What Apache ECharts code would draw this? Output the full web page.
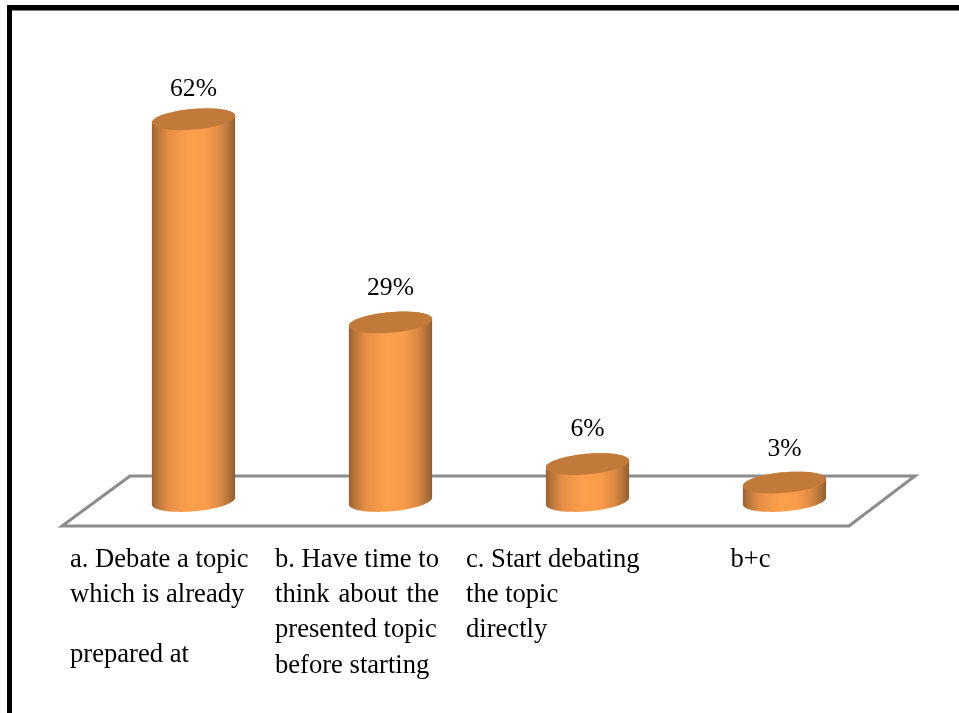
<!DOCTYPE html>
<html>
<head>
<meta charset="utf-8">
<style>html,body{margin:0;padding:0;background:#fff}#chart{width:959px;height:713px}</style>
<script src="https://cdn.jsdelivr.net/npm/echarts@6/dist/echarts.min.js"></script>
</head>
<body>
<div id="chart"></div>
<script>
// Survey responses, in percent
const categories = ['a', 'b', 'c', 'b+c'];
const percentages = [62, 29, 6, 3];
const categoryLines = [
  ['a. Debate a topic', 'which is already', 'prepared at'],
  ['b. Have time to', 'think\u200a about\u200a the', 'presented topic', 'before starting'],
  ['c. Start debating', 'the topic', 'directly'],
  ['b+c']
];

// Label block layout: half-width around the band centre and per-line heights
const labelHalfWidth = [123.5, 115.5, 121.5, 54];
const labelLineHeights = [
  [35, 35, 85],
  [35, 35, 35, 36],
  [35, 35, 35],
  [35]
];
// Gap between each column's top and its value label
const valueLabelGap = [30, 34, 35, 33.5];
const serif = '"Liberation Serif", "Times New Roman", serif';

const rich = {};
categoryLines.forEach((lines, c) => lines.forEach((_, l) => {
  rich['c' + c + 'l' + l] = {
    width: labelHalfWidth[c] * 2,
    align: 'left',
    fontFamily: serif,
    fontSize: 26.6,
    color: '#000',
    lineHeight: labelLineHeights[c][l]
  };
}));

// Points on a tilted ellipse between two parameter angles
const TILT = -5 * Math.PI / 180;
function ellipsePoints(cx, cy, a, b, from, to, steps) {
  const pts = [];
  for (let i = 0; i <= steps; i++) {
    const t = from + (to - from) * i / steps;
    const x = a * Math.cos(t), y = b * Math.sin(t);
    pts.push([cx + x * Math.cos(TILT) - y * Math.sin(TILT),
              cy + x * Math.sin(TILT) + y * Math.cos(TILT)]);
  }
  return pts;
}

const bodyGradient = {
  type: 'linear', x: 0, y: 0, x2: 1, y2: 0,
  colorStops: [
    { offset: 0, color: '#9a5f30' },
    { offset: 0.06, color: '#b5743a' },
    { offset: 0.2, color: '#e58f46' },
    { offset: 0.45, color: '#ff9f4b' },
    { offset: 0.65, color: '#fb9c4a' },
    { offset: 0.82, color: '#dc8a44' },
    { offset: 0.93, color: '#b27239' },
    { offset: 1, color: '#8f5d33' }
  ]
};

function renderCylinder(params, api) {
  const index = api.value(0);
  const value = api.value(1);
  const base = api.coord([index, 0]);
  const top = api.coord([index, value]);
  const a = api.size([1, 0])[0] * 0.212, b = 10.3;
  const side = ellipsePoints(base[0], base[1], a, b, Math.PI, 0, 40)
    .concat(ellipsePoints(top[0], top[1], a, b, 0, -Math.PI, 40));
  return {
    type: 'group',
    children: [
      { type: 'polygon', shape: { points: side }, style: { fill: bodyGradient } },
      {
        type: 'polygon',
        shape: { points: ellipsePoints(top[0], top[1], a, b, 0, Math.PI * 2, 72) },
        style: { fill: '#c17a3a' }
      },
      {
        type: 'text',
        style: {
          x: top[0], y: top[1] - valueLabelGap[index],
          text: value + '%',
          fontFamily: serif, fontSize: 25.6, fill: '#000',
          align: 'center', verticalAlign: 'middle'
        }
      }
    ]
  };
}

// Floor plane under the columns, anchored to the value-axis zero line
function renderFloor(params, api) {
  const band = api.size([1, 0])[0];
  const first = api.coord([0, 0]);
  const last = api.coord([categories.length - 1, 0]);
  const l = first[0] - band / 2, r = last[0] + band / 2, y = first[1];
  return {
    type: 'polygon',
    shape: { points: [[l - 33, y + 25], [r - 34, y + 25], [r + 32, y - 25], [l + 35, y - 25]] },
    style: { fill: 'none', stroke: '#8c8c8c', lineWidth: 3 }
  };
}

const chart = echarts.init(document.getElementById('chart'), null, { renderer: 'canvas' });
chart.setOption({
  animation: false,
  backgroundColor: '#fff',
  grid: { left: 95, right: 76, top: 70, bottom: 212 },
  xAxis: {
    type: 'category',
    data: categories,
    axisLine: { show: false },
    axisTick: { show: false },
    axisLabel: {
      interval: 0,
      margin: 42,
      verticalAlign: 'top',
      rich,
      formatter: (value, index) => categoryLines[index]
        .map((line, l) => '{c' + index + 'l' + l + '|' + line + '}').join('\n')
    }
  },
  yAxis: { type: 'value', min: 0, max: 70, show: false },
  graphic: [
    { type: 'rect', shape: { x: 7, y: 5, width: 5, height: 708 }, style: { fill: '#000' } },
    { type: 'rect', shape: { x: 7, y: 5, width: 952, height: 5.5 }, style: { fill: '#000' } }
  ],
  series: [
    { type: 'custom', silent: true, z: 1, renderItem: renderFloor, data: [[0, 0]], encode: { x: 0, y: 1 } },
    {
      type: 'custom', z: 2, renderItem: renderCylinder,
      data: percentages.map((v, i) => [i, v]),
      encode: { x: 0, y: 1 }
    }
  ]
});
</script>
</body>
</html>
